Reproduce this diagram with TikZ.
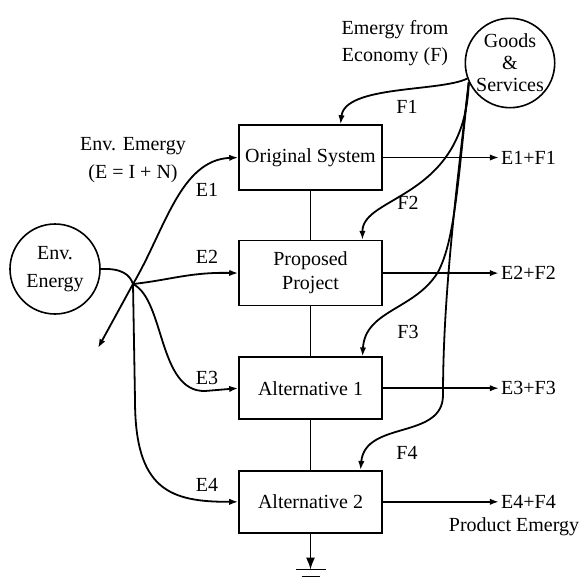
\documentclass[tikz,border=0pt]{standalone}
\usepackage{fontspec}
\setmainfont{Liberation Serif}
\usetikzlibrary{arrows.meta,positioning}

\begin{document}
\begin{tikzpicture}[
  x=0.5pt, y=-0.5pt,
  >={Latex[length=4.5pt,width=3.2pt]},
  node distance=24.5pt,
  sys/.style={draw, line width=0.8pt, minimum width=71.5pt, minimum height=32.5pt, align=center, inner sep=2pt},
  src/.style={draw, circle, line width=0.8pt, align=center, inner sep=0pt},
  flow/.style={->, line width=0.9pt},
  outflow/.style={->, line width=0.8pt},
  link/.style={line width=0.5pt},
  lbl/.style={inner sep=1pt, align=center}
]
\useasboundingbox (0,0) rectangle (581,578);

% Sources
\node[src, minimum size=45pt, font=\linespread{1.15}\selectfont] (env) at (55,269) {Env.\\Energy};
\node[src, minimum size=43pt, font=\linespread{0.92}\selectfont] (goods) at (510,63) {Goods\\\&\\Services};

\node[lbl, font=\linespread{1.1}\selectfont] (econ) at (395,43) {Emergy from\\Economy (F)};
\node[lbl, font=\linespread{1.2}\selectfont] (envtxt) at (133,160) {Env. Emergy\\(E = I + N)};

% Systems
\node[sys] (orig) at (310.5,157.5) {Original System};
\node[sys, below=of orig] (prop) {Proposed\\Project};
\node[sys, below=25pt of prop, minimum height=31pt] (alt1) {Alternative 1};
\node[sys, below=25pt of alt1, minimum height=31pt] (alt2) {Alternative 2};

\draw[link] (orig) -- (prop);
\draw[link] (prop) -- (alt1);
\draw[link] (alt1) -- (alt2);

% Env. energy split
\coordinate (hub) at (133,284);
\coordinate (sink) at (98,348);
\draw[line width=0.9pt] (env.east) .. controls (122,268) and (130,275) .. (hub);
\draw[flow] (hub) -- (sink);
\draw[flow] (hub) .. controls (165,230) and (180,160) .. (orig.west);
\draw[flow] (hub) .. controls (170,280) and (190,272) .. (prop.west);
\draw[flow] (hub) .. controls (165,300) and (158,392) .. (205,391) -- (alt1.west);
\draw[flow] (hub) -- (135,400) .. controls (135,490) and (170,502) .. (alt2.west);

\node[lbl] (e1) at (207,190) {E1};
\node[lbl] (e2) at (207,257) {E2};
\node[lbl] (e3) at (207,378) {E3};
\node[lbl] (e4) at (207,485) {E4};

% Goods and services
\draw[flow] (goods.200) .. controls (440,92) and (345,85) .. ([xshift=15pt]orig.north);
\draw[flow] (goods.205) .. controls (465,200) and (362,195) .. ([xshift=26pt]prop.north);
\draw[flow] (goods.205) .. controls (458,180) and (455,240) .. (438,272)
  .. controls (415,310) and (365,310) .. ([xshift=26pt]alt1.north);
\draw[flow] (goods.205) .. controls (455,200) and (443,300) .. (443,395)
  .. controls (443,440) and (365,420) .. ([xshift=25pt]alt2.north);

\node[lbl] (f1) at (407,107) {F1};
\node[lbl] (f2) at (408,203) {F2};
\node[lbl] (f3) at (408,332) {F3};
\node[lbl] (f4) at (407,453) {F4};

% Products
\node[lbl, right=58pt of orig] (p1) {E1+F1};
\node[lbl, right=58pt of prop] (p2) {E2+F2};
\node[lbl, right=58pt of alt1] (p3) {E3+F3};
\node[lbl, right=58pt of alt2] (p4) {E4+F4};

\draw[outflow] (orig) -- (p1);
\draw[outflow, line width=1.3pt] (prop) -- (p2);
\draw[outflow] (alt1) -- (p3);
\draw[outflow] (alt2) -- (p4);

\node[lbl] (prod) at (514,527) {Product Emergy};

% Heat sink
\coordinate (gnd) at ([yshift=-18pt]alt2.south);
\draw[->, >={Latex[length=6pt,width=4.5pt]}, line width=0.8pt] (alt2) -- (gnd);
\draw[link] ([xshift=-7.5pt]gnd) -- ([xshift=7.5pt]gnd);
\draw[link] ([xshift=-4.5pt,yshift=-3.5pt]gnd) -- ([xshift=4.5pt,yshift=-3.5pt]gnd);
\end{tikzpicture}
\end{document}
